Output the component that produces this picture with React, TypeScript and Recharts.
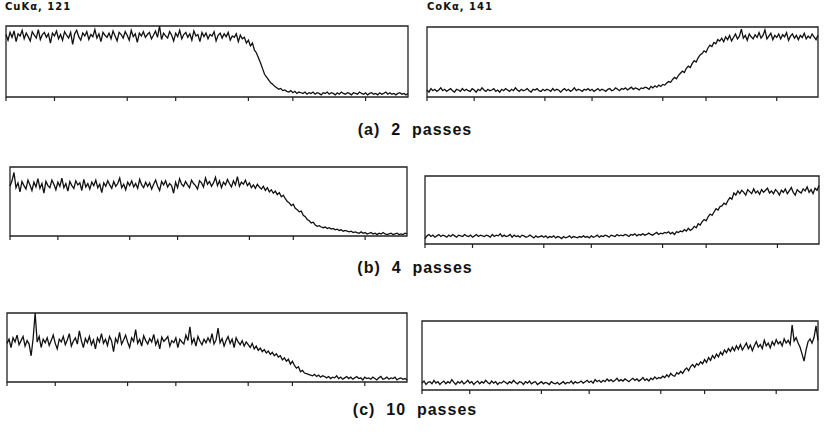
import { LineChart, Line, XAxis, YAxis, ReferenceArea } from "recharts";

// intensity profiles, 200 samples across each scan (0..199), % of full scale
const cuA = [
  88, 80, 91, 84, 93, 78, 89, 86, 94, 82,
  90, 85, 79, 92, 87, 83, 95, 81, 88, 91,
  84, 89, 76, 90, 86, 93, 82, 88, 80, 92,
  87, 83, 91, 74, 89, 94, 85, 80, 90, 86,
  92, 81, 88, 85, 95, 83, 89, 78, 91, 87,
  84, 90, 82, 93, 86, 79, 91, 88, 83, 92,
  87, 80, 94, 85, 89, 77, 90, 86, 92, 84,
  88, 91, 82, 87, 93, 84, 100, 81, 90, 86,
  83, 92, 87, 79, 90, 85, 94, 82, 88, 91,
  84, 89, 80, 93, 86, 88, 78, 91, 85, 90,
  82, 88, 86, 92, 79, 87, 90, 83, 89, 85,
  91, 80, 86, 84, 89, 78, 87, 82, 84, 76,
  80, 72, 76, 66, 62, 55, 48, 40, 32, 28,
  24, 20, 18, 15, 13, 11, 12, 9, 10, 8,
  7, 9, 6, 8, 5, 7, 6, 5, 7, 4,
  6, 5, 7, 4, 6, 5, 3, 6, 5, 7,
  4, 6, 5, 3, 6, 4, 7, 5, 4, 6,
  5, 3, 6, 5, 4, 7, 5, 4, 6, 3,
  5, 6, 4, 5, 3, 6, 4, 5, 7, 4,
  6, 4, 5, 3, 5, 6, 4, 5, 3, 5,
];
const coA = [
  10, 7, 12, 9, 11, 8, 10, 13, 9, 11,
  8, 10, 12, 9, 7, 11, 10, 8, 12, 9,
  11, 9, 8, 12, 10, 7, 11, 9, 13, 10,
  8, 11, 9, 10, 12, 8, 10, 7, 11, 9,
  12, 10, 8, 11, 9, 13, 10, 8, 11, 9,
  10, 12, 9, 7, 11, 10, 12, 9, 8, 11,
  9, 11, 10, 8, 12, 9, 11, 10, 7, 10,
  12, 9, 11, 8, 10, 13, 9, 11, 10, 8,
  11, 10, 12, 9, 11, 8, 10, 12, 9, 11,
  10, 8, 11, 12, 9, 10, 13, 11, 9, 12,
  11, 13, 10, 12, 14, 11, 13, 12, 10, 13,
  12, 14, 13, 11, 15, 13, 16, 14, 17, 15,
  18, 17, 20, 22, 21, 25, 28, 26, 31, 34,
  37, 35, 41, 44, 42, 48, 52, 50, 56, 60,
  62, 66, 64, 70, 74, 72, 78, 76, 82, 80,
  84, 79, 86, 82, 88, 80, 85, 90, 83, 87,
  97, 84, 88, 81, 90, 86, 83, 89, 85, 92,
  84, 88, 96, 83, 87, 91, 82, 88, 85, 90,
  83, 89, 86, 92, 81, 87, 90, 84, 88, 82,
  88, 85, 91, 83, 87, 84, 90, 86, 82, 88,
];
const cuB = [
  72, 80, 92, 70, 77, 64, 79, 73, 68, 81,
  74, 66, 78, 71, 83, 69, 76, 62, 79, 73,
  70, 81, 75, 67, 78, 72, 84, 70, 76, 65,
  79, 73, 69, 80, 74, 77, 66, 82, 71, 76,
  68, 78, 73, 81, 70, 75, 63, 77, 72, 80,
  74, 69, 79, 72, 76, 84, 70, 75, 67, 78,
  73, 80, 71, 76, 69, 82, 74, 70, 78, 72,
  77, 68, 75, 81, 72, 66, 79, 74, 80, 71,
  76, 73, 62, 78, 70, 83, 75, 72, 79, 74,
  70, 81, 76, 73, 68, 80, 77, 71, 84, 75,
  79, 72, 77, 85, 73, 80, 70, 78, 74, 82,
  76, 71, 80, 74, 86, 72, 78, 75, 81, 73,
  77, 70, 74, 69, 75, 71, 68, 72, 66, 70,
  64, 67, 62, 65, 60, 63, 57, 59, 54, 50,
  48, 44, 46, 40, 38, 35, 36, 30, 28, 24,
  22, 19, 20, 16, 14, 15, 13, 12, 13, 11,
  12, 10, 11, 9, 10, 8, 9, 7, 8, 7,
  6, 7, 5, 6, 5, 4, 6, 4, 5, 3,
  4, 5, 3, 4, 2, 4, 3, 5, 3, 2,
  3, 4, 2, 3, 4, 2, 3, 2, 4, 3,
];
const coB = [
  8, 12, 14, 11, 13, 10, 12, 14, 11, 13,
  12, 10, 13, 11, 14, 12, 10, 13, 12, 11,
  14, 12, 11, 13, 10, 12, 14, 11, 13, 12,
  11, 13, 12, 10, 14, 11, 13, 12, 15, 11,
  13, 11, 12, 14, 10, 13, 11, 12, 10, 13,
  12, 10, 11, 13, 11, 9, 12, 10, 11, 12,
  10, 12, 9, 11, 10, 12, 9, 11, 10, 8,
  11, 9, 10, 12, 9, 11, 10, 9, 11, 10,
  12, 10, 11, 9, 12, 10, 11, 13, 10, 12,
  11, 13, 12, 10, 13, 12, 11, 14, 12, 13,
  12, 14, 13, 11, 14, 13, 15, 12, 14, 13,
  15, 13, 14, 16, 14, 13, 15, 17, 14, 16,
  15, 17, 16, 18, 15, 17, 14, 18, 17, 19,
  18, 21, 19, 23, 20, 22, 26, 24, 30, 28,
  33, 36, 34, 40, 44, 42, 47, 52, 50, 55,
  56, 60, 58, 64, 68, 66, 75, 72, 78, 74,
  79, 76, 72, 80, 77, 74, 81, 75, 78, 73,
  80, 76, 79, 82, 75, 78, 74, 80, 77, 72,
  79, 76, 81, 74, 78, 83, 76, 72, 80, 77,
  75, 81, 78, 84, 76, 80, 74, 82, 79, 86,
];
const cuC = [
  56, 62, 50, 64, 58, 68, 54, 60, 66, 52,
  60, 55, 38, 63, 100, 58, 66, 50, 62, 57,
  64, 53, 60, 68, 56, 48, 62, 58, 66, 54,
  61, 70, 52, 59, 64, 55, 74, 60, 50, 63,
  57, 66, 54, 61, 48, 64, 58, 70, 56, 62,
  53, 66, 60, 44, 63, 57, 72, 55, 61, 68,
  58, 50, 64, 59, 76, 56, 62, 52, 67, 60,
  55, 63, 58, 69, 54, 61, 48, 65, 59, 62,
  66, 52, 60, 57, 64, 50, 62, 58, 55, 68,
  60, 80, 56, 63, 52, 66, 59, 54, 62, 57,
  64, 58, 70, 55, 61, 78, 57, 63, 52, 60,
  66, 56, 62, 50, 64, 58, 54, 60, 52, 58,
  54, 50, 56, 48, 52, 46, 49, 44, 47, 42,
  45, 40, 43, 38, 41, 36, 38, 32, 35, 30,
  33, 26, 30, 24, 20, 22, 15, 17, 13, 12,
  11, 10, 9, 11, 8, 10, 7, 9, 8, 6,
  8, 5, 7, 6, 9, 5, 7, 4, 6, 8,
  5, 7, 4, 6, 8, 5, 6, 3, 7, 5,
  6, 4, 7, 5, 3, 6, 8, 4, 5, 7,
  4, 6, 5, 7, 3, 5, 6, 4, 5, 3,
];
const coC = [
  10, 13, 8, 11, 12, 9, 14, 10, 12, 8,
  11, 13, 9, 12, 10, 15, 11, 8, 12, 10,
  13, 9, 11, 14, 10, 12, 8, 11, 13, 9,
  12, 10, 14, 11, 9, 13, 10, 12, 8, 11,
  10, 13, 11, 9, 12, 10, 14, 11, 9, 12,
  11, 8, 12, 10, 13, 9, 11, 12, 8, 10,
  12, 9, 11, 10, 8, 12, 10, 9, 11, 8,
  10, 12, 9, 11, 10, 13, 9, 12, 10, 11,
  13, 10, 12, 14, 11, 13, 10, 15, 12, 14,
  11, 14, 12, 16, 13, 15, 12, 14, 17, 13,
  15, 13, 16, 14, 12, 15, 17, 14, 16, 13,
  15, 18, 14, 16, 13, 17, 15, 19, 16, 18,
  17, 20, 18, 22, 19, 24, 21, 20, 25, 23,
  27, 24, 29, 32, 28, 34, 37, 33, 38, 36,
  41, 38, 44, 40, 47, 43, 50, 46, 52, 48,
  55, 51, 58, 54, 60, 56, 62, 57, 64, 59,
  66, 58, 63, 68, 60, 65, 57, 64, 70, 62,
  66, 60, 72, 64, 68, 61, 70, 65, 73, 67,
  70, 64, 74, 68, 72, 66, 94, 71, 76, 68,
  62, 52, 42, 58, 70, 74, 68, 76, 93, 72,
];

const xTicks = [0, 24, 60, 84, 120, 142, 178];
const passLabels = ["(a)  2  passes", "(b)  4  passes", "(c)  10  passes"];
const titles = ["CuKα, 121", "CoKα, 141"];

function Profile({ values, x, y, w, h }: { values: number[]; x: number; y: number; w: number; h: number }) {
  const data = values.map((v, i) => ({ i, v }));
  return (
    <div style={{ position: "absolute", left: x - 1, top: y - 1 }}>
      <LineChart width={w + 2} height={h + 7} data={data} margin={{ top: 1, right: 1, left: 1, bottom: 0 }}>
        <XAxis
          dataKey="i"
          type="number"
          domain={[0, 199]}
          ticks={xTicks}
          height={6}
          tickSize={4}
          axisLine={false}
          tickLine={{ stroke: "#222", strokeWidth: 1.2 }}
          tickFormatter={() => ""}
        />
        <YAxis hide domain={[0, 100]} />
        <ReferenceArea x1={0} x2={199} y1={0} y2={100} fill="none" stroke="#222" strokeWidth={1.3} />
        <Line dataKey="v" stroke="#111" strokeWidth={1.3} dot={false} isAnimationActive={false} />
      </LineChart>
    </div>
  );
}

export default function App() {
  const labelStyle = {
    position: "absolute" as const,
    left: 0,
    width: 830,
    textAlign: "center" as const,
    fontFamily: "Liberation Sans, Arial, sans-serif",
    fontWeight: 700,
    fontSize: 16,
    letterSpacing: 1,
    whiteSpace: "pre" as const,
    color: "#111",
  };
  const titleStyle = {
    position: "absolute" as const,
    top: 1,
    fontFamily: "DejaVu Sans, sans-serif",
    fontWeight: 700,
    fontSize: 10,
    letterSpacing: 1,
    color: "#111",
  };
  return (
    <div style={{ position: "absolute", left: 0, top: 0, width: 824, height: 437, background: "#fff", overflow: "hidden" }}>
      <div style={{ ...titleStyle, left: 5 }}>{titles[0]}</div>
      <div style={{ ...titleStyle, left: 427 }}>{titles[1]}</div>

      <Profile values={cuA} x={6} y={26} w={402} h={71} />
      <Profile values={coA} x={427} y={27} w={391} h={70} />
      <div style={{ ...labelStyle, top: 121 }}>{passLabels[0]}</div>

      <Profile values={cuB} x={10} y={167} w={397} h={69} />
      <Profile values={coB} x={425} y={176} w={394} h={68} />
      <div style={{ ...labelStyle, top: 259 }}>{passLabels[1]}</div>

      <Profile values={cuC} x={7} y={313} w={400} h={69} />
      <Profile values={coC} x={422} y={321} w={396} h={69} />
      <div style={{ ...labelStyle, top: 401 }}>{passLabels[2]}</div>
    </div>
  );
}
